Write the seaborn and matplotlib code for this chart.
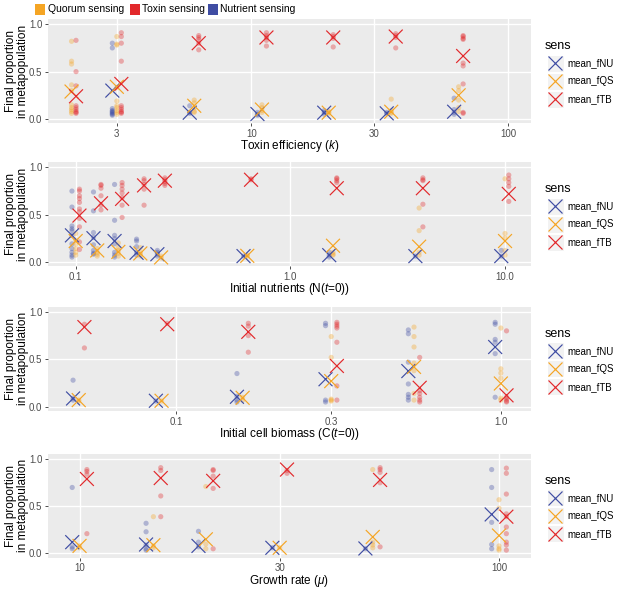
import numpy as np
import pandas as pd
import matplotlib
matplotlib.use("Agg")
import matplotlib.pyplot as plt
import seaborn as sns
from matplotlib.lines import Line2D
from matplotlib.patches import Rectangle

nan = np.nan

# ---- data ----
sens_order = ["mean_fNU", "mean_fQS", "mean_fTB"]
pal = {"mean_fNU": "#3F4DA3", "mean_fQS": "#F5A524", "mean_fTB": "#E2282B"}
top_labels = ["Quorum sensing", "Toxin sensing", "Nutrient sensing"]
top_colors = ["#F5A524", "#E2282B", "#3F4DA3"]

# panel 1: toxin efficiency (k)
tox_k = [2, 3, 6, 11, 20, 35, 64]
tox_mean_nu = [nan, 0.30, 0.067, 0.053, 0.067, 0.06, 0.077]
tox_mean_qs = [0.29, 0.34, 0.14, 0.10, 0.067, 0.077, 0.25]
tox_mean_tb = [0.24, 0.37, 0.80, 0.86, 0.86, 0.87, 0.665]
tox_pts_nu = [[], [0.80, 0.75, 0.11, 0.09, 0.08, 0.07, 0.06, 0.05, 0.04],
              [0.14, 0.07, 0.06], [0.07, 0.05, 0.04], [0.09, 0.07, 0.05],
              [0.07, 0.06], [0.22, 0.10, 0.07, 0.05]]
tox_pts_qs = [[0.82, 0.61, 0.58, 0.36, 0.30, 0.15, 0.12, 0.10, 0.08, 0.06],
              [0.87, 0.79, 0.78, 0.33, 0.19, 0.14, 0.12, 0.09, 0.07, 0.05],
              [0.20, 0.17, 0.12, 0.08, 0.07], [0.15, 0.12, 0.09, 0.07],
              [0.08, 0.07, 0.06], [0.21, 0.09, 0.07, 0.06],
              [0.34, 0.30, 0.20, 0.12, 0.08]]
tox_pts_tb = [[0.83, 0.50, 0.35, 0.14, 0.12, 0.10, 0.08, 0.07, 0.06],
              [0.91, 0.87, 0.80, 0.61, 0.14, 0.12, 0.10, 0.08, 0.07, 0.06],
              [0.88, 0.86, 0.84, 0.80, 0.73], [0.91, 0.88, 0.86, 0.83, 0.77],
              [0.89, 0.87, 0.85, 0.76], [0.90, 0.88, 0.86, 0.75],
              [0.88, 0.87, 0.85, 0.84, 0.59, 0.56, 0.37, 0.07, 0.06]]

# panel 2: initial nutrients
nut_n = [0.1, 0.126, 0.158, 0.2, 0.25, 0.63, 1.58, 3.98, 10.0]
nut_mean_nu = [0.28, 0.25, 0.22, 0.095, 0.08, 0.06, 0.07, 0.06, 0.06]
nut_mean_qs = [0.22, 0.12, 0.105, 0.088, 0.046, 0.063, 0.17, 0.16, 0.22]
nut_mean_tb = [0.49, 0.62, 0.667, 0.81, 0.86, 0.87, 0.78, 0.78, 0.72]
nut_pts_nu = [[0.75, 0.58, 0.38, 0.35, 0.33, 0.28, 0.19, 0.14, 0.10, 0.07, 0.05],
              [0.74, 0.54, 0.31, 0.26, 0.18, 0.12, 0.09, 0.08],
              [0.82, 0.44, 0.28, 0.245, 0.19, 0.10, 0.07, 0.05],
              [0.24, 0.22, 0.16, 0.10, 0.07], [0.12, 0.10, 0.08, 0.06],
              [0.06], [0.10, 0.07, 0.05], [0.06], [0.12, 0.06]]
nut_pts_qs = [[0.30, 0.23, 0.19, 0.14, 0.10, 0.07], [0.14, 0.10, 0.08, 0.06],
              [0.20, 0.15, 0.12, 0.09, 0.06], [0.15, 0.10, 0.08, 0.06],
              [0.06, 0.04], [0.07, 0.06], [0.10, 0.08, 0.07],
              [0.57, 0.33, 0.10, 0.07], [0.88, 0.30, 0.25, 0.12, 0.07]]
nut_pts_tb = [[0.77, 0.75, 0.70, 0.67, 0.63, 0.56, 0.53, 0.46, 0.37, 0.21, 0.13],
              [0.82, 0.81, 0.78, 0.70, 0.60, 0.55],
              [0.84, 0.81, 0.77, 0.73, 0.68, 0.60, 0.47],
              [0.88, 0.86, 0.82, 0.77, 0.60], [0.89, 0.87, 0.85, 0.83, 0.81],
              [0.88, 0.87], [0.89, 0.88, 0.86, 0.84],
              [0.89, 0.87, 0.86, 0.61, 0.37], [0.92, 0.88, 0.84, 0.80, 0.64]]

# panel 3: initial cell biomass
bio_c = [0.05, 0.09, 0.16, 0.3, 0.54, 1.0]
bio_mean_nu = [0.087, 0.063, 0.105, 0.29, 0.376, 0.63]
bio_mean_qs = [0.07, 0.063, 0.094, 0.27, 0.42, 0.245]
bio_mean_tb = [0.84, 0.87, 0.79, 0.43, 0.20, 0.12]
bio_pts_nu = [[0.28, 0.09, 0.07], [0.06], [0.35, 0.11, 0.07, 0.05],
              [0.88, 0.855, 0.07, 0.05], [0.81, 0.77, 0.47, 0.24, 0.13, 0.10, 0.07],
              [0.89, 0.87, 0.71, 0.68, 0.56, 0.10]]
bio_pts_qs = [[0.07, 0.06], [0.06], [0.10, 0.07], [0.74, 0.52, 0.08, 0.07, 0.06],
              [0.84, 0.74, 0.63, 0.46, 0.38, 0.14, 0.07],
              [0.83, 0.40, 0.355, 0.30, 0.09, 0.07]]
bio_pts_tb = [[0.87, 0.62], [0.88], [0.88, 0.85, 0.75, 0.575],
              [0.89, 0.87, 0.85, 0.83, 0.68, 0.22, 0.07],
              [0.52, 0.17, 0.14, 0.10, 0.07, 0.05], [0.80, 0.10, 0.08, 0.06, 0.05]]

# panel 4: growth rate
gr_mu = [10, 15, 20, 30, 50, 100]
gr_mean_nu = [0.12, 0.095, 0.08, 0.06, 0.053, 0.414]
gr_mean_qs = [0.08, 0.088, 0.15, 0.06, 0.175, 0.19]
gr_mean_tb = [0.79, 0.80, 0.77, 0.89, 0.78, 0.39]
gr_pts_nu = [[0.70, 0.07, 0.05], [0.32, 0.23, 0.09, 0.05, 0.035], [0.235, 0.12, 0.07],
             [0.06], [0.05], [0.89, 0.70, 0.33, 0.095, 0.05]]
gr_pts_qs = [[0.08, 0.06], [0.39, 0.08, 0.06], [0.71, 0.10, 0.05], [0.06],
             [0.89, 0.12, 0.09, 0.06], [0.57, 0.48, 0.08, 0.05, 0.035]]
gr_pts_tb = [[0.89, 0.87, 0.84, 0.21], [0.91, 0.88, 0.61, 0.39],
             [0.89, 0.88, 0.82, 0.69, 0.05], [0.88, 0.85],
             [0.91, 0.89, 0.86, 0.75, 0.07],
             [0.905, 0.85, 0.63, 0.42, 0.39, 0.28, 0.21, 0.12, 0.09, 0.035]]

panels = [
    dict(x=tox_k, means=[tox_mean_nu, tox_mean_qs, tox_mean_tb],
         pts=[tox_pts_nu, tox_pts_qs, tox_pts_tb],
         xlim=(1.62, 122), ticks=[3, 10, 30, 100], ticklabels=["3", "10", "30", "100"],
         xlabel=r"Toxin efficiency ($\it{k}$)", top=19, bottom=123.3),
    dict(x=nut_n, means=[nut_mean_nu, nut_mean_qs, nut_mean_tb],
         pts=[nut_pts_nu, nut_pts_qs, nut_pts_tb],
         xlim=(0.0743, 13.17), ticks=[0.1, 1, 10], ticklabels=["0.1", "1.0", "10.0"],
         xlabel=r"Initial nutrients (N($\it{t}$=0))", top=162.3, bottom=266),
    dict(x=bio_c, means=[bio_mean_nu, bio_mean_qs, bio_mean_tb],
         pts=[bio_pts_nu, bio_pts_qs, bio_pts_tb],
         xlim=(0.0402, 1.236), ticks=[0.1, 0.3, 1], ticklabels=["0.1", "0.3", "1.0"],
         xlabel=r"Initial cell biomass (C($\it{t}$=0))", top=306.7, bottom=411),
    dict(x=gr_mu, means=[gr_mean_nu, gr_mean_qs, gr_mean_tb],
         pts=[gr_pts_nu, gr_pts_qs, gr_pts_tb],
         xlim=(8.41, 119), ticks=[10, 30, 100], ticklabels=["10", "30", "100"],
         xlabel=r"Growth rate ($\it{μ}$)", top=454, bottom=557.7),
]

# dodge in log10 units
dodge = {"mean_fNU": -0.0175, "mean_fQS": 0.0, "mean_fTB": 0.0175}

plt.rcParams["font.family"] = ["Liberation Sans", "DejaVu Sans"]
plt.rcParams["mathtext.fontset"] = "custom"
plt.rcParams["mathtext.rm"] = "Liberation Sans"
plt.rcParams["mathtext.it"] = "Liberation Sans:italic"

W, H = 617, 589
fig = plt.figure(figsize=(W / 100, H / 100), dpi=100)


def long_frames(p):
    pts_rows, mean_rows = [], []
    for s, means, pts in zip(sens_order, p["means"], p["pts"]):
        for xv, m, vals in zip(p["x"], means, pts):
            xd = xv * 10 ** dodge[s]
            if not np.isnan(m):
                mean_rows.append((xd, m, s))
            for v in vals:
                pts_rows.append((xd, v, s))
    cols = ["xd", "value", "sens"]
    return pd.DataFrame(pts_rows, columns=cols), pd.DataFrame(mean_rows, columns=cols)


def fx(px):
    return px / W


def fy(py):
    return 1 - py / H


left, right = 48, 530.7
for p in panels:
    ax = fig.add_axes([fx(left), fy(p["bottom"]), (right - left) / W,
                       (p["bottom"] - p["top"]) / H])
    ax.set_facecolor("#EBEBEB")
    pts_df, mean_df = long_frames(p)
    sns.scatterplot(data=pts_df, x="xd", y="value", hue="sens", palette=pal,
                    hue_order=sens_order, s=14, alpha=0.35, linewidth=0,
                    legend=False, ax=ax, zorder=3)
    sns.scatterplot(data=mean_df, x="xd", y="value", hue="sens", palette=pal,
                    hue_order=sens_order, marker="x", s=100, linewidth=0.85,
                    legend=False, ax=ax, zorder=4)
    ax.set_xscale("log")
    ax.set_xlim(*p["xlim"])
    ax.set_ylim(-0.045, 1.055)
    ax.set_xticks(p["ticks"])
    ax.set_xticklabels(p["ticklabels"])
    ax.xaxis.set_minor_locator(matplotlib.ticker.NullLocator())
    ax.set_yticks([0, 0.5, 1.0])
    ax.set_yticklabels(["0.0", "0.5", "1.0"])
    ax.grid(True, color="white", linewidth=1.0)
    ax.set_axisbelow(True)
    for sp in ax.spines.values():
        sp.set_visible(False)
    ax.tick_params(length=2.5, width=0.6, color="#333333", labelcolor="#4D4D4D",
                   labelsize=7, pad=1.5)
    ax.set_xlabel("")
    ax.set_ylabel("")

    c = (p["top"] + p["bottom"]) / 2
    # axis titles placed like the ggplot layout
    fig.text(fx((left + right) / 2), fy(p["bottom"] + 23), p["xlabel"],
             fontsize=8.5, ha="center", va="center")
    fig.text(fx(17), fy(c), "Final proportion\nin metapopulation", fontsize=8.5,
             rotation=90, ha="center", va="center", linespacing=0.95)

    # right-hand legend, ggplot style
    fig.text(fx(545), fy(c - 25), "sens", fontsize=9, va="center", ha="left")
    for i, s in enumerate(sens_order):
        cy = c - 8 + 18 * i
        fig.add_artist(Rectangle((fx(546.5), fy(cy + 8.5)), 17 / W, 17 / H,
                                 transform=fig.transFigure, facecolor="#F2F2F2",
                                 edgecolor="white", linewidth=0.8))
        fig.add_artist(Line2D([fx(555)], [fy(cy)], marker="x", markersize=10,
                              markeredgewidth=0.85, color=pal[s],
                              transform=fig.transFigure))
        fig.text(fx(567), fy(cy), s, fontsize=7, va="center", ha="left")

# top legend
xpos = [35, 130, 208]
for lab, col, x0 in zip(top_labels, top_colors, xpos):
    fig.add_artist(Rectangle((fx(x0), fy(14.5)), 10 / W, 10 / H,
                             transform=fig.transFigure, facecolor=col,
                             edgecolor="none"))
    fig.text(fx(x0 + 12.5), fy(9.5), lab, fontsize=7.5, va="center", ha="left")

fig.savefig("out.png", dpi=100)
